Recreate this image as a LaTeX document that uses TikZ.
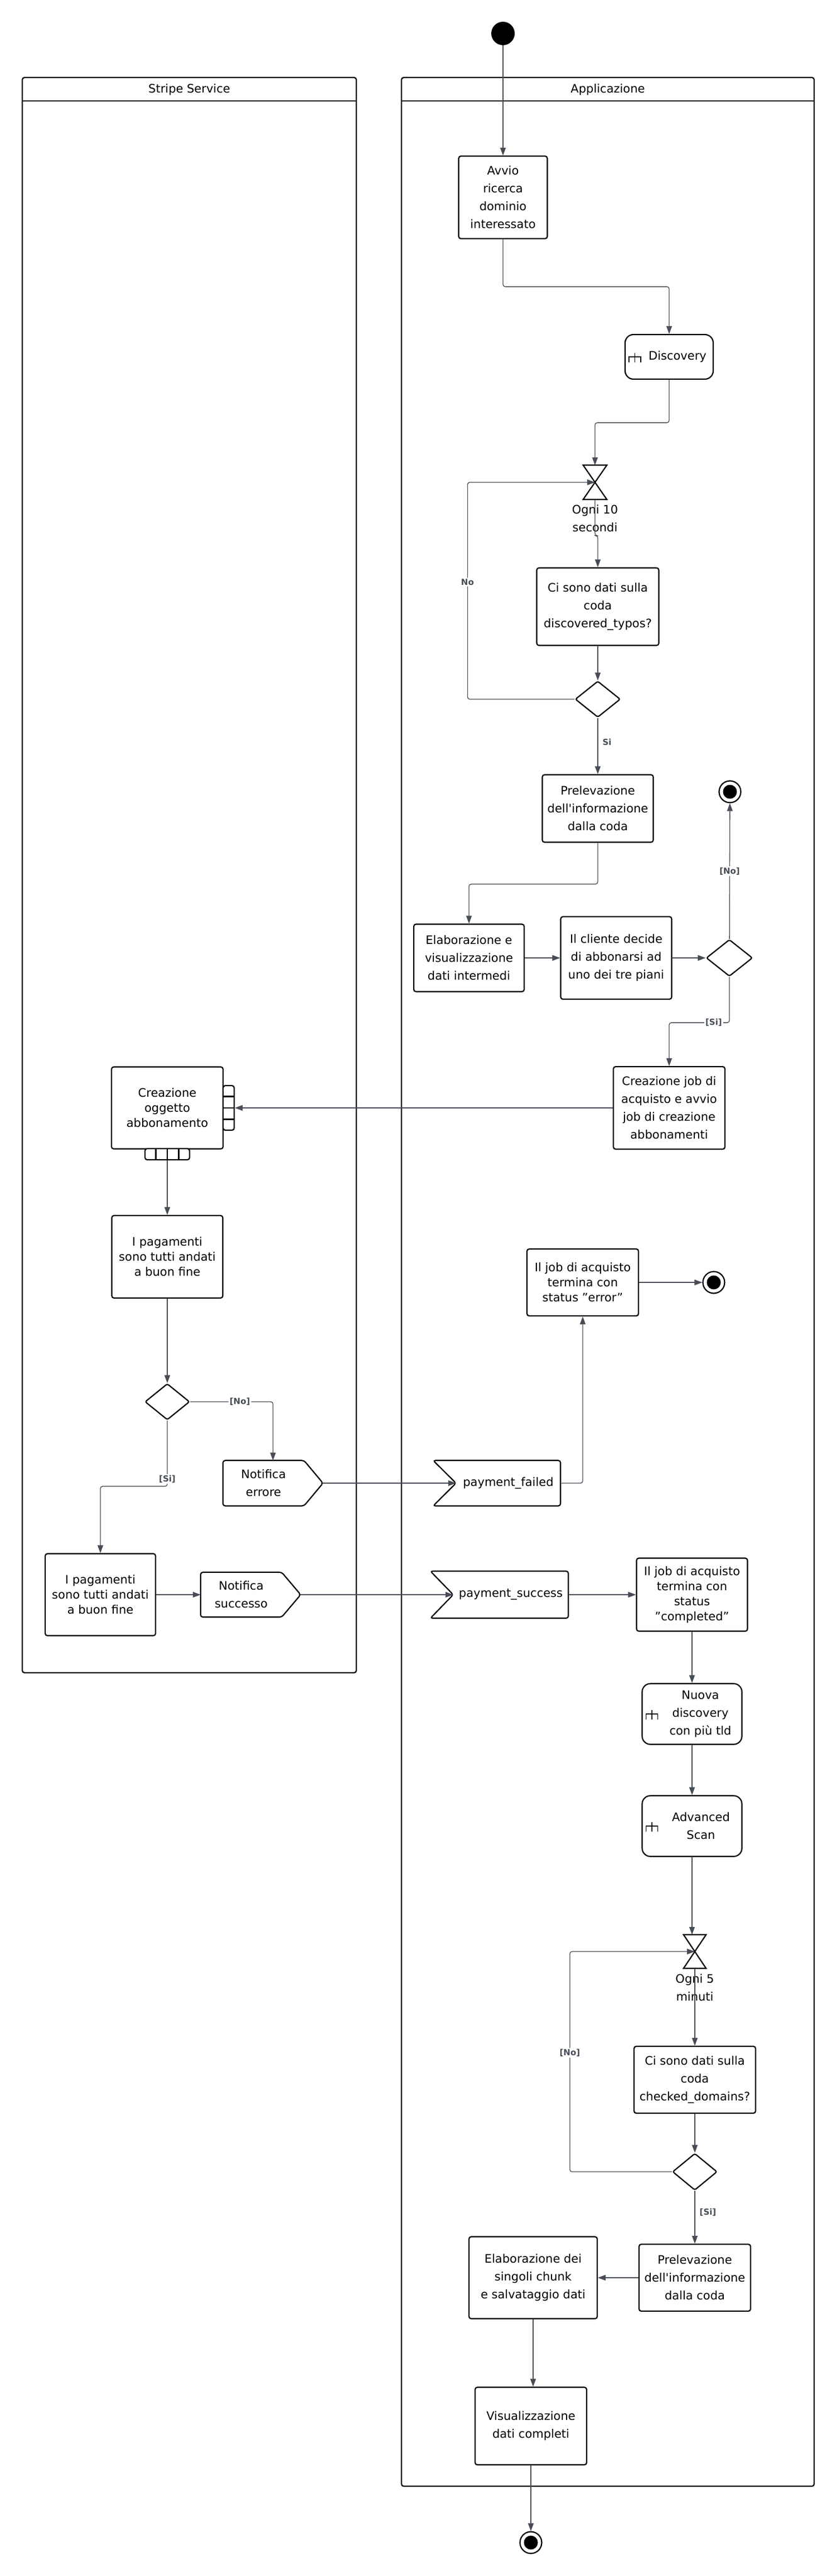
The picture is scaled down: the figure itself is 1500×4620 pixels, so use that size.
\documentclass[tikz,border=0pt]{standalone}
\usepackage{fontspec}
\setmainfont{DejaVu Sans}
\usetikzlibrary{shapes,arrows.meta,calc}
\definecolor{edgegray}{HTML}{474C55}
\tikzstyle{lane} = [rectangle, draw, line width=2.2pt, rounded corners=4pt, inner sep=0pt]
\tikzstyle{lanetitle} = [font=\fontsize{21}{26}\selectfont]
\tikzstyle{act} = [rectangle, draw, line width=2.2pt, rounded corners=4pt, fill=white,
    align=center, inner sep=0pt, font=\fontsize{21}{32}\selectfont]
\tikzstyle{actsm} = [act, font=\fontsize{21}{27}\selectfont]
\tikzstyle{callact} = [act, rounded corners=15pt]
\tikzstyle{actlabel} = [align=center, inner sep=0pt, font=\fontsize{21}{32}\selectfont]
\tikzstyle{sigbody} = [rectangle, align=center, inner sep=0pt, font=\fontsize{21}{32}\selectfont]
\tikzstyle{decision} = [diamond, draw, line width=2.2pt, rounded corners=3pt, fill=white,
    inner sep=0pt, minimum width=81pt, minimum height=65pt]
\tikzstyle{timer} = [rectangle, inner sep=0pt, minimum width=42pt, minimum height=61pt]
\tikzstyle{pinv} = [rectangle, draw, line width=2.2pt, rounded corners=4pt, fill=white,
    minimum width=20pt, minimum height=80pt, inner sep=0pt]
\tikzstyle{pinh} = [rectangle, draw, line width=2.2pt, rounded corners=4pt, fill=white,
    minimum width=80pt, minimum height=20pt, inner sep=0pt]
\tikzstyle{startnode} = [circle, fill=black, minimum size=42pt, inner sep=0pt]
\tikzstyle{endnode} = [circle, draw, line width=2.2pt, fill=white, minimum size=39pt, inner sep=0pt,
    path picture={\fill[black] (path picture bounding box.center) circle (12.5pt);}]
\tikzstyle{line} = [draw, edgegray, line width=1.3pt, rounded corners=4pt, -{Triangle[length=14pt,width=10pt]}]
\tikzstyle{guard} = [font=\bfseries\fontsize{15}{18}\selectfont, text=edgegray, fill=white, inner sep=2pt]
\tikzstyle{guardside} = [font=\bfseries\fontsize{15}{18}\selectfont, text=edgegray, inner sep=8pt]
\newcommand{\hourglass}[1]{\draw [line width=2.2pt] (#1.north west) -- (#1.north east)
    -- (#1.south west) -- (#1.south east) -- cycle;}
\newcommand{\rakeicon}[1]{\draw [line width=1.6pt] ($(#1.west)+(8,-10)$) -- ++(0,10) -- ++(21,0)
    -- ++(0,-10) ($(#1.west)+(18.5,7)$) -- ++(0,-17);}
\newcommand{\pinrows}[1]{\foreach \k in {1,2,3} \draw [line width=2.2pt]
    ($(#1.north west)!\k/4!(#1.south west)$) -- ($(#1.north east)!\k/4!(#1.south east)$);}
\newcommand{\pincols}[1]{\foreach \k in {1,2,3} \draw [line width=2.2pt]
    ($(#1.north west)!\k/4!(#1.north east)$) -- ($(#1.south west)!\k/4!(#1.south east)$);}
% send signal: pointer of 34pt on the right, tip saved as <name>tip
\newcommand{\sendoutline}[1]{\coordinate (#1tip) at ($(#1.east)+(34,0)$);
    \draw [line width=2.2pt, rounded corners=4pt] (#1.north west) -- (#1.north east) -- (#1tip)
    -- (#1.south east) -- (#1.south west) -- cycle;}
% accept event: notch of 41pt on the left, apex at <name>.west
\newcommand{\acceptoutline}[1]{\draw [line width=2.2pt, rounded corners=4pt] (#1.north east)
    -- (#1.south east) -- ($(#1.south west)+(-41,0)$) -- (#1.west) -- ($(#1.north west)+(-41,0)$) -- cycle;}
\begin{document}
\begin{tikzpicture}[x=1pt, y=1pt, node distance=200pt]
    \path [fill=white] (0,0) rectangle (1500,-4620);
    \useasboundingbox (0,0) rectangle (1500,-4620);
    % Swimlanes
    \node [lane, minimum width=599pt, minimum height=2861pt] (stripelane) at (339.5,-1569.5) {};
    \node [lane, minimum width=740pt, minimum height=4320pt] (applane) at (1090,-2299) {};
    \draw [line width=2.2pt] ([yshift=-43pt]stripelane.north west) -- ([yshift=-43pt]stripelane.north east);
    \draw [line width=2.2pt] ([yshift=-43pt]applane.north west) -- ([yshift=-43pt]applane.north east);
    \node [lanetitle] (stripetitle) at ([yshift=-23pt]stripelane.north) {Stripe Service};
    \node [lanetitle] (apptitle) at ([yshift=-23pt]applane.north) {Applicazione};

    % Place nodes
    \node [startnode] (start) at (902,-60) {};
    \node [act, below of=start, node distance=294pt, minimum width=159pt, minimum height=148pt] (avvio) {Avvio\\ricerca\\dominio\\interessato};
    \node [callact, below of=avvio, node distance=286pt, xshift=298pt, minimum width=158pt, minimum height=80pt] (discovery) {};
    \node [actlabel, xshift=15pt] (discoverytxt) at (discovery) {Discovery};
    \node [timer, below of=discovery, node distance=225pt, xshift=-133pt] (wait1) {};
    \node [actlabel, below of=wait1, node distance=65pt] (wait1txt) {Ogni 10\\secondi};
    \node [act, below of=wait1, node distance=223pt, xshift=5pt, minimum width=219pt, minimum height=139pt] (queue1) {Ci sono dati sulla\\coda\\discovered\_typos?};
    \node [decision, below of=queue1, node distance=166pt] (check1) {};
    \node [act, below of=check1, node distance=196pt, minimum width=199pt, minimum height=121pt] (fetch1) {Prelevazione\\dell\textquotesingle informazione\\dalla coda};
    \node [endnode, right of=fetch1, node distance=237pt, yshift=30pt] (end1) {};
    \node [act, below of=fetch1, node distance=268pt, xshift=-231pt, minimum width=198pt, minimum height=121pt] (elab1) {Elaborazione e\\visualizzazione\\dati intermedi};
    \node [act, right of=elab1, node distance=264pt, minimum width=199pt, minimum height=148pt] (choice) {Il cliente decide\\di abbonarsi ad\\uno dei tre piani};
    \node [decision, right of=choice, node distance=203pt, minimum width=83pt, minimum height=66pt] (check2) {};
    \node [act, below of=check2, node distance=269pt, xshift=-108pt, minimum width=200pt, minimum height=148pt] (job) {Creazione job di\\acquisto e avvio\\job di creazione\\abbonamenti};
    \node [actsm, left of=job, node distance=900pt, minimum width=200pt, minimum height=147pt] (subobj) {Creazione\\oggetto\\abbonamento};
    \node [pinv, right of=subobj, node distance=110pt] (subin) {};
    \node [pinh, below of=subobj, node distance=83pt] (subout) {};
    \node [actsm, below of=subobj, node distance=267pt, minimum width=199pt, minimum height=148pt] (pay1) {I pagamenti\\sono tutti andati\\a buon fine};
    \node [decision, below of=pay1, node distance=260pt, minimum width=80pt] (check3) {};
    \node [sigbody, below of=check3, node distance=146pt, xshift=172.5pt, minimum width=145pt, minimum height=81pt] (senderr) {Notifica\\errore};
    \node [actsm, below of=check3, node distance=346pt, xshift=-120pt, minimum width=198pt, minimum height=147pt] (pay2) {I pagamenti\\sono tutti andati\\a buon fine};
    \node [sigbody, right of=pay2, node distance=252.5pt, minimum width=145pt, minimum height=80pt] (sendok) {Notifica\\successo};
    \node [sigbody, right of=senderr, node distance=439pt, minimum width=187pt, minimum height=81pt] (failed) {payment\_failed};
    \node [actsm, above of=failed, node distance=360pt, xshift=133.5pt, minimum width=200pt, minimum height=120pt] (joberr) {Il job di acquisto\\termina con\\status "error"};
    \node [endnode, right of=joberr, node distance=235pt] (end2) {};
    \node [sigbody, right of=sendok, node distance=483.5pt, minimum width=206pt, minimum height=84pt] (success) {payment\_success};
    \node [actsm, right of=success, node distance=325pt, minimum width=199pt, minimum height=131pt] (jobok) {Il job di acquisto\\termina con\\status\\"completed"};
    \node [callact, below of=jobok, node distance=214pt, minimum width=179pt, minimum height=109pt] (newdisc) {};
    \node [actlabel, xshift=15pt] (newdisctxt) at (newdisc) {Nuova\\discovery\\con più tld};
    \node [callact, below of=newdisc, node distance=201pt, minimum width=179pt, minimum height=109pt] (advscan) {};
    \node [actlabel, xshift=16pt] (advscantxt) at (advscan) {Advanced\\Scan};
    \node [timer, below of=advscan, node distance=225pt, xshift=5pt, minimum width=40pt, minimum height=60pt] (wait2) {};
    \node [actlabel, below of=wait2, node distance=65pt] (wait2txt) {Ogni 5\\minuti};
    \node [act, below of=wait2, node distance=230pt, minimum width=218pt, minimum height=120pt] (queue2) {Ci sono dati sulla\\coda\\checked\_domains?};
    \node [decision, below of=queue2, node distance=165pt, minimum width=80pt, minimum height=66pt] (check4) {};
    \node [act, below of=check4, node distance=190pt, minimum width=200pt, minimum height=120pt] (fetch2) {Prelevazione\\dell\textquotesingle informazione\\dalla coda};
    \node [act, left of=fetch2, node distance=290pt, minimum width=230pt, minimum height=147pt] (chunks) {Elaborazione dei\\singoli chunk\\e salvataggio dati};
    \node [act, below of=chunks, node distance=266pt, xshift=-4pt, minimum width=200pt, minimum height=139pt] (showall) {Visualizzazione\\dati completi};
    \node [endnode, below of=showall, node distance=209pt] (end3) {};

    % Icons, pins and signal outlines
    \hourglass{wait1}
    \hourglass{wait2}
    \rakeicon{discovery}
    \rakeicon{newdisc}
    \rakeicon{advscan}
    \pinrows{subin}
    \pincols{subout}
    \sendoutline{senderr}
    \sendoutline{sendok}
    \acceptoutline{failed}
    \acceptoutline{success}

    % Draw edges
    \path [line] (start) -- (avvio);
    \path [line] (avvio.south) -- ++(0,-85) -| (discovery.north);
    \path [line] (discovery.south) -- ++(0,-77) -| (wait1.north);
    \path [line] (wait1.south) -- ++(0,-65) -| (queue1.north);
    \path [line] (queue1) -- (check1);
    \path [line] (check1.west) -- ++(-192,0) |- node [guard, pos=0.27] {No} (wait1.center);
    \path [line] (check1) -- node [guardside, right, pos=0.43] {Si} (fetch1);
    \path [line] (fetch1.south) -- ++(0,-74) -| (elab1.north);
    \path [line] (elab1) -- (choice);
    \path [line] (choice) -- (check2);
    \path [line] (check2) -- node [guard] {[No]} (end1);
    \path [line] (check2.south) -- ++(0,-82) -| node [guard, pos=0.13] {[Si]} (job.north);
    \path [line] (job.west) -- (subin.east);
    \path [line] (subout) -- (pay1);
    \path [line] (pay1) -- (check3);
    \path [line] (check3.east) -| node [guard, pos=0.3] {[No]} ([xshift=17pt]senderr.north);
    \path [line] (check3.south) -- node [guard, pos=0.89] {[Si]} ++(0,-118) -| (pay2.north);
    \path [line] (pay2) -- (sendok);
    \path [line] (senderrtip) -- (failed.west);
    \path [line] (failed.east) -| (joberr.south);
    \path [line] (joberr) -- (end2);
    \path [line] (sendoktip) -- (success.west);
    \path [line] (success) -- (jobok);
    \path [line] (jobok) -- (newdisc);
    \path [line] (newdisc) -- (advscan);
    \path [line] (advscan.south) -- (advscan.south |- wait2.north);
    \path [line] (check4.west) -- ++(-183,0) |- node [guard, pos=0.27] {[No]} (wait2.center);
    \path [line] (wait2.south) -- (queue2.north);
    \path [line] (queue2) -- (check4);
    \path [line] (check4) -- node [guardside, right, pos=0.41] {[Si]} (fetch2);
    \path [line] (fetch2) -- (chunks);
    \path [line] (chunks.south) -- (chunks.south |- showall.north);
    \path [line] (showall) -- (end3);
\end{tikzpicture}
\end{document}
